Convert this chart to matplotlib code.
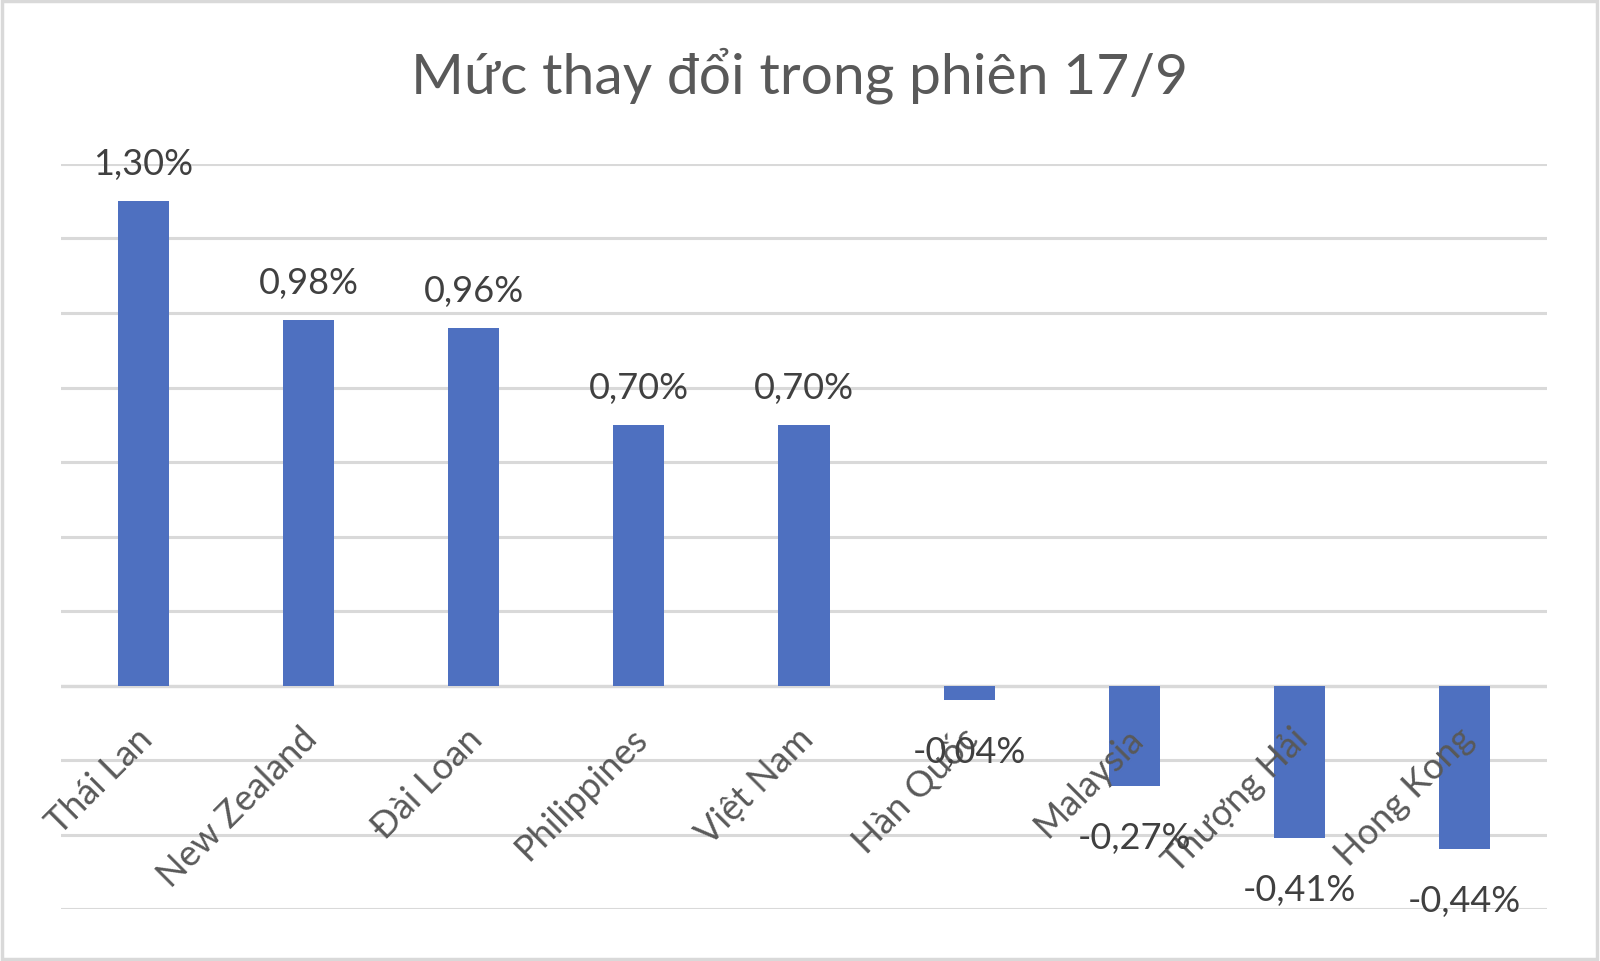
import matplotlib

matplotlib.use("Agg")
import matplotlib.pyplot as plt
from matplotlib.patches import Rectangle
from matplotlib.transforms import offset_copy

# data ---------------------------------------------------------------------
markets = ["Thái Lan", "New Zealand", "Đài Loan", "Philippines", "Việt Nam",
           "Hàn Quốc", "Malaysia", "Thượng Hải", "Hong Kong"]
change_pct = [1.30, 0.98, 0.96, 0.70, 0.70, -0.04, -0.27, -0.41, -0.44]
y_ticks = [-0.6, -0.4, -0.2, 0.0, 0.2, 0.4, 0.6, 0.8, 1.0, 1.2, 1.4]
title = "Mức thay đổi trong phiên 17/9"

BAR = "#4E70C0"
GRID = "#D9D9D9"
TEXT = "#404040"
TITLE = "#595959"

plt.rcParams["font.family"] = ["Lato", "Noto Sans", "DejaVu Sans"]

fig = plt.figure(figsize=(16, 9.62), dpi=100)
ax = fig.add_axes([0.038, 0.054, 0.929, 0.7745])

x = list(range(len(markets)))
ax.bar(x, change_pct, width=0.31, color=BAR, zorder=3)

ax.set_xlim(-0.5, len(markets) - 0.5)
ax.set_ylim(y_ticks[0], y_ticks[-1])
ax.set_yticks(y_ticks)
ax.yaxis.grid(True, color=GRID, lw=2.2, zorder=0)
ax.tick_params(left=False, bottom=False, labelleft=False, labelbottom=False)
for s in ax.spines.values():
    s.set_visible(False)
ax.axhline(0, color=GRID, lw=2.4, zorder=1)

# value labels
for xi, v in zip(x, change_pct):
    lbl = f"{v:.2f}%".replace(".", ",")
    if v >= 0:
        tr = offset_copy(ax.transData, fig=fig, y=27, units="points")
    else:
        tr = offset_copy(ax.transData, fig=fig, y=-37, units="points")
    ax.text(xi, v, lbl, transform=tr, ha="center", va="center",
            fontsize=26, color=TEXT, zorder=5)

# rotated category labels, sitting just under the zero line
for xi, name in zip(x, markets):
    tr = offset_copy(ax.transData, fig=fig, x=2.5, y=-34, units="points")
    ax.text(xi, 0, name, transform=tr, rotation=45, rotation_mode="anchor",
            ha="right", va="center", fontsize=26, color=TITLE, zorder=4)

fig.text(0.5, 0.921, title, ha="center", va="center", fontsize=41, color=TITLE)

# thin outer frame like the chart area border
fig.patches.append(Rectangle((0.001, 0.002), 0.997, 0.996, transform=fig.transFigure,
                             fill=False, ec=GRID, lw=2.5))

fig.savefig("out.png", dpi=100, facecolor="white")
